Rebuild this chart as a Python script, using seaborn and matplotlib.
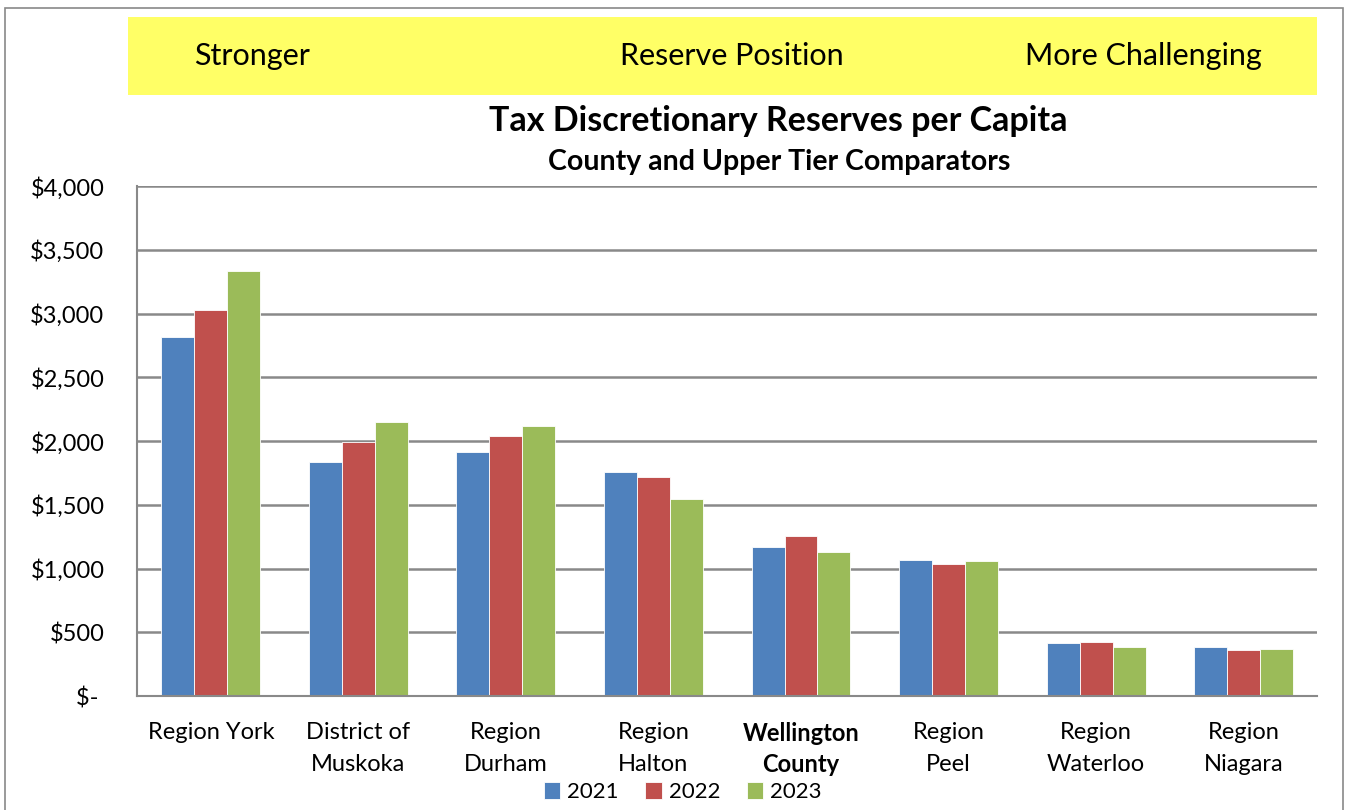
import pandas as pd
import matplotlib.pyplot as plt
import seaborn as sns
from matplotlib.patches import Rectangle

regions = ['Region York', 'District of\nMuskoka', 'Region\nDurham', 'Region\nHalton',
           'Wellington\nCounty', 'Region\nPeel', 'Region\nWaterloo', 'Region\nNiagara']
years = ['2021', '2022', '2023']
reserves_2021 = [2816, 1838, 1911, 1757, 1169, 1069, 418, 384]
reserves_2022 = [3030, 1990, 2042, 1715, 1257, 1033, 424, 361]
reserves_2023 = [3333, 2147, 2115, 1548, 1127, 1061, 384, 369]
y_ticks = [0, 500, 1000, 1500, 2000, 2500, 3000, 3500, 4000]
y_tick_labels = ['$- ', '$500', '$1,000', '$1,500', '$2,000', '$2,500', '$3,000', '$3,500', '$4,000']
banner_labels = ['Stronger', 'Reserve Position', 'More Challenging']
year_colors = ['#4F81BD', '#C0504D', '#9BBB59']

def build_frame():
    rows = []
    for year, values in zip(years, [reserves_2021, reserves_2022, reserves_2023]):
        for region, v in zip(regions, values):
            rows.append({'Region': region, 'Year': year, 'Reserve': v})
    return pd.DataFrame(rows)

data = build_frame()

sns.set_style('white')
plt.rcParams['font.family'] = ['Lato', 'DejaVu Sans']
plt.rcParams['text.color'] = 'black'
plt.rcParams['xtick.labelcolor'] = 'black'
plt.rcParams['ytick.labelcolor'] = 'black'
grey = '#898989'

fig = plt.figure(figsize=(13.49, 8.1), dpi=100)
ax = fig.add_axes([0.1016, 0.1407, 0.8750, 0.6296])

sns.barplot(data=data, x='Region', y='Reserve', hue='Year', order=regions, hue_order=years,
            palette=year_colors, saturation=1, width=0.67, gap=0, edgecolor='white',
            linewidth=0.6, ax=ax)

ax.set_xlim(-0.5, len(regions) - 0.5)
ax.set_ylim(0, 4000)
ax.set_yticks(y_ticks)
ax.set_yticklabels(y_tick_labels)
ax.set_xlabel("")
ax.set_ylabel("")
ax.yaxis.grid(True, color=grey, linewidth=1.8)
ax.set_axisbelow(True)
for side in ['top', 'right']:
    ax.spines[side].set_visible(False)
for side in ['left', 'bottom']:
    ax.spines[side].set_color(grey)
    ax.spines[side].set_linewidth(1.5)

ax.tick_params(axis='y', length=6.5, color=grey, width=1.5, pad=17, labelsize=17)
ax.set_xticks([i - 0.5 for i in range(len(regions) + 1)], minor=True)
ax.tick_params(axis='x', which='major', length=0, pad=18.5, labelsize=17)
ax.tick_params(axis='x', which='minor', length=5.5, color=grey, width=1.5, direction='out')
for lbl in ax.get_xticklabels():
    lbl.set_linespacing(1.68)
ax.get_xticklabels()[4].set_fontweight('bold')
ax.get_xticklabels()[4].set_linespacing(1.45)

handles, labels = ax.get_legend_handles_labels()
ax.get_legend().remove()
fig.legend(handles, labels, loc='center', bbox_to_anchor=(0.506, 0.022), ncol=3, frameon=False,
           fontsize=16, handlelength=0.75, handleheight=0.75, handletextpad=0.3, columnspacing=1.2)

# yellow banner and outer frame
fig.patches.append(Rectangle((0.0949, 0.8827), 0.8814, 0.0963, transform=fig.transFigure,
                             facecolor='#FFFF66', edgecolor='none', zorder=0))
fig.patches.append(Rectangle((0.0037, -0.05), 0.9918, 1.04, transform=fig.transFigure,
                             fill=False, edgecolor=grey, linewidth=1.2))
for x, text in zip([0.1868, 0.5426, 0.8473], banner_labels):
    fig.text(x, 0.931, text, fontsize=22, ha='center', va='center')

fig.text(0.577, 0.8506, "Tax Discretionary Reserves per Capita", fontsize=24.5, fontweight='bold',
         ha='center', va='center')
fig.text(0.5775, 0.800, "County and Upper Tier Comparators", fontsize=20.5, fontweight='bold',
         ha='center', va='center')

fig.savefig("out.png", dpi=100)
plt.close()
